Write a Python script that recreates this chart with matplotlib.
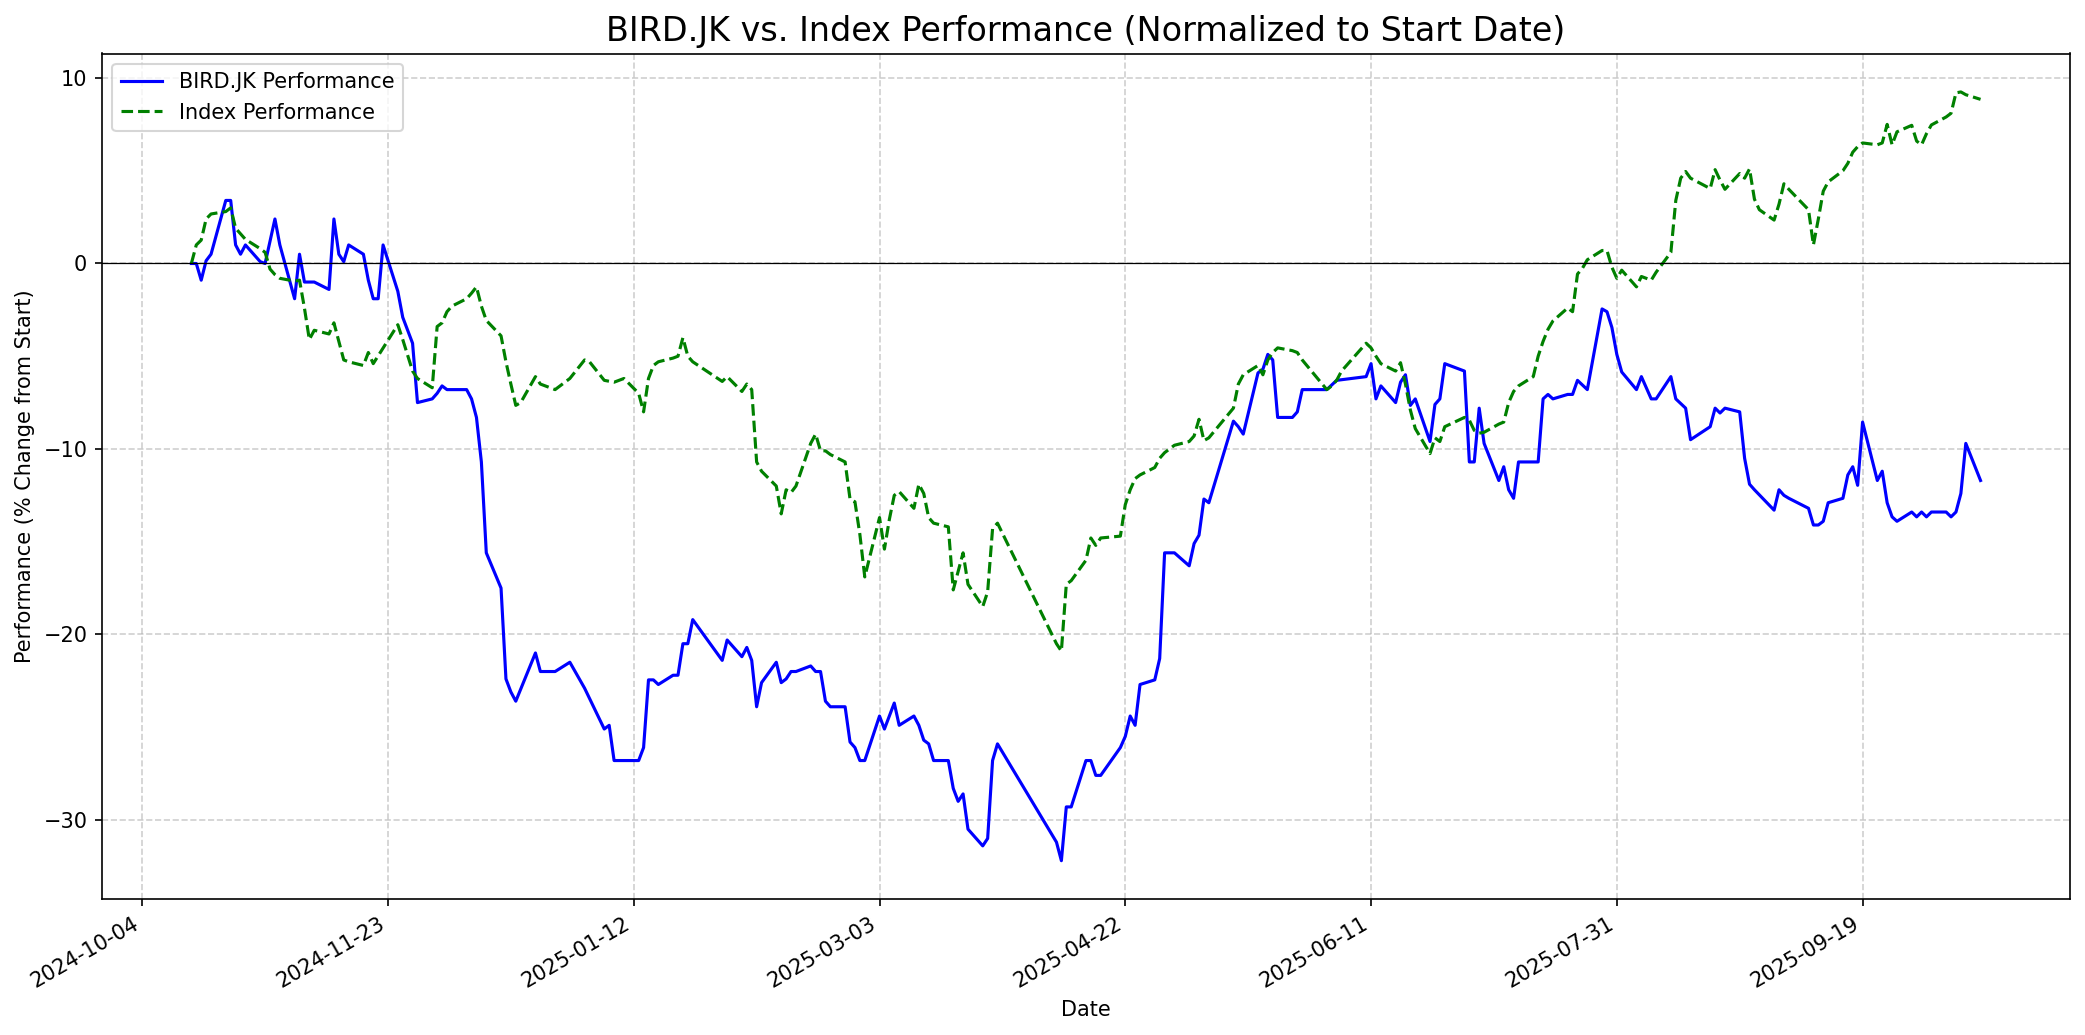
import matplotlib
matplotlib.use("Agg")
import matplotlib.pyplot as plt
import matplotlib.dates as mdates
import pandas as pd

bird_dates = [
    "2024-10-14", "2024-10-15", "2024-10-16", "2024-10-17", "2024-10-18", "2024-10-21", "2024-10-22",
    "2024-10-23", "2024-10-24", "2024-10-25", "2024-10-28", "2024-10-29", "2024-10-31", "2024-11-01",
    "2024-11-04", "2024-11-05", "2024-11-06", "2024-11-07", "2024-11-08", "2024-11-11", "2024-11-12",
    "2024-11-13", "2024-11-14", "2024-11-15", "2024-11-18", "2024-11-19", "2024-11-20", "2024-11-21",
    "2024-11-22", "2024-11-25", "2024-11-26", "2024-11-28", "2024-11-29", "2024-12-02", "2024-12-03",
    "2024-12-04", "2024-12-05", "2024-12-06", "2024-12-09", "2024-12-10", "2024-12-11", "2024-12-12",
    "2024-12-13", "2024-12-16", "2024-12-17", "2024-12-18", "2024-12-19", "2024-12-23", "2024-12-24",
    "2024-12-27", "2024-12-30", "2025-01-02", "2025-01-06", "2025-01-07", "2025-01-08", "2025-01-09",
    "2025-01-10", "2025-01-13", "2025-01-14", "2025-01-15", "2025-01-16", "2025-01-17", "2025-01-20",
    "2025-01-21", "2025-01-22", "2025-01-23", "2025-01-24", "2025-01-30", "2025-01-31", "2025-02-03",
    "2025-02-04", "2025-02-05", "2025-02-06", "2025-02-07", "2025-02-10", "2025-02-11", "2025-02-12",
    "2025-02-13", "2025-02-14", "2025-02-17", "2025-02-18", "2025-02-19", "2025-02-20", "2025-02-21",
    "2025-02-24", "2025-02-25", "2025-02-26", "2025-02-27", "2025-02-28", "2025-03-03", "2025-03-04",
    "2025-03-05", "2025-03-06", "2025-03-07", "2025-03-10", "2025-03-11", "2025-03-12", "2025-03-13",
    "2025-03-14", "2025-03-17", "2025-03-18", "2025-03-19", "2025-03-20", "2025-03-21", "2025-03-24",
    "2025-03-25", "2025-03-26", "2025-03-27", "2025-04-08", "2025-04-09", "2025-04-10", "2025-04-11",
    "2025-04-14", "2025-04-15", "2025-04-16", "2025-04-17", "2025-04-21", "2025-04-22", "2025-04-23",
    "2025-04-24", "2025-04-25", "2025-04-28", "2025-04-29", "2025-04-30", "2025-05-02", "2025-05-05",
    "2025-05-06", "2025-05-07", "2025-05-08", "2025-05-09", "2025-05-14", "2025-05-15", "2025-05-16",
    "2025-05-19", "2025-05-20", "2025-05-21", "2025-05-22", "2025-05-23", "2025-05-26", "2025-05-27",
    "2025-05-28", "2025-06-02", "2025-06-04", "2025-06-10", "2025-06-11", "2025-06-12", "2025-06-13",
    "2025-06-16", "2025-06-17", "2025-06-18", "2025-06-19", "2025-06-20", "2025-06-23", "2025-06-24",
    "2025-06-25", "2025-06-26", "2025-06-30", "2025-07-01", "2025-07-02", "2025-07-03", "2025-07-04",
    "2025-07-07", "2025-07-08", "2025-07-09", "2025-07-10", "2025-07-11", "2025-07-14", "2025-07-15",
    "2025-07-16", "2025-07-17", "2025-07-18", "2025-07-21", "2025-07-22", "2025-07-23", "2025-07-25",
    "2025-07-28", "2025-07-29", "2025-07-30", "2025-07-31", "2025-08-01", "2025-08-04", "2025-08-05",
    "2025-08-06", "2025-08-07", "2025-08-08", "2025-08-11", "2025-08-12", "2025-08-13", "2025-08-14",
    "2025-08-15", "2025-08-19", "2025-08-20", "2025-08-21", "2025-08-22", "2025-08-25", "2025-08-26",
    "2025-08-27", "2025-08-28", "2025-09-01", "2025-09-02", "2025-09-03", "2025-09-04", "2025-09-08",
    "2025-09-09", "2025-09-10", "2025-09-11", "2025-09-12", "2025-09-15", "2025-09-16", "2025-09-17",
    "2025-09-18", "2025-09-19", "2025-09-22", "2025-09-23", "2025-09-24", "2025-09-25", "2025-09-26",
    "2025-09-29", "2025-09-30", "2025-10-01", "2025-10-02", "2025-10-03", "2025-10-06", "2025-10-07",
    "2025-10-08", "2025-10-09", "2025-10-10", "2025-10-13",
]
bird_perf = [
    0.0, 0.0, -0.9, 0.15, 0.5, 3.4, 3.4,
    1.0, 0.5, 1.0, 0.1, 0.0, 2.4, 1.0,
    -1.9, 0.5, -1.0, -1.0, -1.0, -1.4, 2.4,
    0.5, 0.1, 1.0, 0.5, -0.9, -1.9, -1.9,
    1.0, -1.5, -2.9, -4.3, -7.5, -7.3, -7.0,
    -6.6, -6.8, -6.8, -6.8, -7.3, -8.3, -10.7,
    -15.6, -17.5, -22.4, -23.1, -23.6, -21.0, -22.0,
    -22.0, -21.5, -22.9, -25.1, -24.9, -26.8, -26.8,
    -26.8, -26.8, -26.1, -22.45, -22.45, -22.7, -22.2,
    -22.2, -20.5, -20.5, -19.2, -21.4, -20.3, -21.2,
    -20.7, -21.4, -23.9, -22.6, -21.5, -22.6, -22.4,
    -22.0, -22.0, -21.7, -22.0, -22.0, -23.6, -23.9,
    -23.9, -25.8, -26.1, -26.8, -26.8, -24.4, -25.1,
    -24.4, -23.7, -24.9, -24.4, -24.9, -25.7, -25.9,
    -26.8, -26.8, -28.3, -29.0, -28.6, -30.5, -31.4,
    -31.0, -26.8, -25.9, -31.2, -32.2, -29.3, -29.3,
    -26.8, -26.8, -27.6, -27.6, -26.1, -25.5, -24.4,
    -24.9, -22.7, -22.45, -21.3, -15.6, -15.6, -16.3,
    -15.1, -14.65, -12.7, -12.9, -8.5, -8.8, -9.2,
    -5.9, -5.7, -4.9, -5.2, -8.3, -8.3, -8.0,
    -6.8, -6.8, -6.3, -6.1, -5.4, -7.3, -6.6,
    -7.5, -6.4, -6.0, -7.65, -7.3, -9.6, -7.6,
    -7.3, -5.4, -5.8, -10.7, -10.7, -7.8, -9.7,
    -11.7, -10.96, -12.2, -12.66, -10.7, -10.7, -10.7,
    -7.3, -7.06, -7.3, -7.06, -7.06, -6.3, -6.8,
    -2.45, -2.6, -3.45, -4.9, -5.85, -6.8, -6.1,
    -6.7, -7.3, -7.3, -6.1, -7.3, -7.55, -7.8,
    -9.5, -8.8, -7.8, -8.06, -7.8, -8.0, -10.5,
    -11.9, -12.2, -13.3, -12.2, -12.5, -12.66, -13.2,
    -14.1, -14.1, -13.9, -12.9, -12.66, -11.4, -10.96,
    -11.96, -8.55, -11.7, -11.2, -12.9, -13.66, -13.9,
    -13.4, -13.66, -13.4, -13.66, -13.4, -13.4, -13.66,
    -13.4, -12.4, -9.7, -11.7,
]

index_dates = [
    "2024-10-14", "2024-10-15", "2024-10-16", "2024-10-17", "2024-10-18", "2024-10-21", "2024-10-22",
    "2024-10-23", "2024-10-24", "2024-10-25", "2024-10-28", "2024-10-29", "2024-10-30", "2024-10-31",
    "2024-11-01", "2024-11-04", "2024-11-05", "2024-11-06", "2024-11-07", "2024-11-08", "2024-11-11",
    "2024-11-12", "2024-11-13", "2024-11-14", "2024-11-15", "2024-11-18", "2024-11-19", "2024-11-20",
    "2024-11-25", "2024-11-26", "2024-11-28", "2024-11-29", "2024-12-02", "2024-12-03", "2024-12-04",
    "2024-12-05", "2024-12-06", "2024-12-09", "2024-12-10", "2024-12-11", "2024-12-12", "2024-12-13",
    "2024-12-16", "2024-12-17", "2024-12-18", "2024-12-19", "2024-12-20", "2024-12-23", "2024-12-24",
    "2024-12-27", "2024-12-30", "2025-01-02", "2025-01-03", "2025-01-06", "2025-01-07", "2025-01-08",
    "2025-01-10", "2025-01-13", "2025-01-14", "2025-01-15", "2025-01-16", "2025-01-17", "2025-01-20",
    "2025-01-21", "2025-01-22", "2025-01-23", "2025-01-24", "2025-01-30", "2025-01-31", "2025-02-03",
    "2025-02-04", "2025-02-05", "2025-02-06", "2025-02-07", "2025-02-10", "2025-02-11", "2025-02-12",
    "2025-02-13", "2025-02-14", "2025-02-17", "2025-02-18", "2025-02-19", "2025-02-20", "2025-02-21",
    "2025-02-24", "2025-02-25", "2025-02-26", "2025-02-27", "2025-02-28", "2025-03-03", "2025-03-04",
    "2025-03-05", "2025-03-06", "2025-03-07", "2025-03-10", "2025-03-11", "2025-03-12", "2025-03-13",
    "2025-03-14", "2025-03-17", "2025-03-18", "2025-03-19", "2025-03-20", "2025-03-21", "2025-03-24",
    "2025-03-25", "2025-03-26", "2025-03-27", "2025-04-08", "2025-04-09", "2025-04-10", "2025-04-11",
    "2025-04-14", "2025-04-15", "2025-04-16", "2025-04-17", "2025-04-21", "2025-04-22", "2025-04-23",
    "2025-04-24", "2025-04-25", "2025-04-28", "2025-04-29", "2025-04-30", "2025-05-02", "2025-05-05",
    "2025-05-06", "2025-05-07", "2025-05-08", "2025-05-09", "2025-05-14", "2025-05-15", "2025-05-16",
    "2025-05-19", "2025-05-20", "2025-05-21", "2025-05-22", "2025-05-23", "2025-05-26", "2025-05-27",
    "2025-05-28", "2025-06-02", "2025-06-03", "2025-06-04", "2025-06-05", "2025-06-10", "2025-06-11",
    "2025-06-12", "2025-06-13", "2025-06-16", "2025-06-17", "2025-06-18", "2025-06-19", "2025-06-20",
    "2025-06-23", "2025-06-24", "2025-06-25", "2025-06-26", "2025-06-30", "2025-07-01", "2025-07-02",
    "2025-07-03", "2025-07-04", "2025-07-07", "2025-07-08", "2025-07-09", "2025-07-10", "2025-07-11",
    "2025-07-14", "2025-07-15", "2025-07-16", "2025-07-17", "2025-07-18", "2025-07-21", "2025-07-22",
    "2025-07-23", "2025-07-24", "2025-07-25", "2025-07-28", "2025-07-29", "2025-07-30", "2025-07-31",
    "2025-08-01", "2025-08-04", "2025-08-05", "2025-08-06", "2025-08-07", "2025-08-08", "2025-08-11",
    "2025-08-12", "2025-08-13", "2025-08-14", "2025-08-15", "2025-08-19", "2025-08-20", "2025-08-21",
    "2025-08-22", "2025-08-25", "2025-08-26", "2025-08-27", "2025-08-28", "2025-08-29", "2025-09-01",
    "2025-09-02", "2025-09-03", "2025-09-04", "2025-09-08", "2025-09-09", "2025-09-10", "2025-09-11",
    "2025-09-12", "2025-09-15", "2025-09-16", "2025-09-17", "2025-09-18", "2025-09-19", "2025-09-22",
    "2025-09-23", "2025-09-24", "2025-09-25", "2025-09-26", "2025-09-29", "2025-09-30", "2025-10-01",
    "2025-10-02", "2025-10-03", "2025-10-06", "2025-10-07", "2025-10-08", "2025-10-09", "2025-10-10",
    "2025-10-13",
]
index_perf = [
    0.0, 1.0, 1.26, 2.4, 2.67, 2.8, 3.0,
    1.9, 1.6, 1.3, 0.8, 0.6, -0.3, -0.6,
    -0.8, -0.95, -0.9, -2.4, -4.1, -3.6, -3.8,
    -3.2, -4.2, -5.2, -5.3, -5.5, -4.8, -5.4,
    -3.3, -4.1, -5.8, -6.2, -6.7, -3.4, -3.2,
    -2.6, -2.3, -1.9, -1.6, -1.26, -2.3, -3.07,
    -3.9, -5.3, -6.5, -7.65, -7.5, -6.1, -6.5,
    -6.8, -6.2, -5.2, -5.3, -6.3, -6.35, -6.4,
    -6.2, -7.0, -8.0, -6.2, -5.5, -5.3, -5.1,
    -5.0, -4.0, -5.0, -5.3, -6.36, -6.1, -6.9,
    -6.5, -6.8, -10.7, -11.2, -12.0, -13.5, -12.2,
    -12.35, -12.0, -9.7, -9.2, -10.1, -10.1, -10.3,
    -10.7, -12.7, -12.85, -14.6, -16.9, -13.7, -15.4,
    -13.8, -12.5, -12.3, -13.2, -11.9, -12.4, -13.7,
    -14.0, -14.2, -17.6, -16.6, -15.6, -17.3, -18.5,
    -17.7, -14.3, -14.0, -20.5, -20.9, -17.3, -17.1,
    -16.0, -14.8, -15.2, -14.8, -14.7, -13.0, -12.2,
    -11.6, -11.4, -11.0, -10.5, -10.2, -9.8, -9.6,
    -9.3, -8.4, -9.55, -9.4, -7.8, -6.5, -6.0,
    -5.5, -6.0, -5.2, -4.8, -4.55, -4.7, -4.8,
    -5.2, -6.8, -6.6, -6.3, -5.8, -4.3, -4.55,
    -5.0, -5.4, -5.8, -5.35, -6.5, -7.9, -8.9,
    -10.25, -9.4, -9.6, -8.8, -8.3, -8.45, -9.0,
    -9.15, -9.1, -8.66, -8.55, -7.5, -6.9, -6.6,
    -6.1, -5.0, -4.2, -3.55, -3.1, -2.4, -2.6,
    -0.57, -0.26, 0.2, 0.7, 0.7, -0.2, -0.8,
    -0.36, -1.26, -0.7, -0.8, -0.9, -0.47, 0.6,
    3.4, 4.6, 4.96, 4.6, 4.04, 5.06, 4.5,
    4.0, 4.85, 4.6, 5.1, 3.47, 2.9, 2.34,
    3.2, 4.3, 4.0, 2.9, 1.0, 2.4, 3.9,
    4.4, 5.0, 5.4, 6.0, 6.3, 6.5, 6.4,
    6.5, 7.5, 6.4, 7.1, 7.45, 6.6, 6.4,
    7.0, 7.47, 7.9, 8.1, 9.2, 9.25, 9.1,
    8.85,
]

x_tick_labels = ["2024-10-04", "2024-11-23", "2025-01-12", "2025-03-03",
                 "2025-04-22", "2025-06-11", "2025-07-31", "2025-09-19"]

bird_x = pd.to_datetime(bird_dates)
index_x = pd.to_datetime(index_dates)

fig, ax = plt.subplots(figsize=(14, 7), dpi=150)
ax.plot(bird_x, bird_perf, color="blue", linestyle="-", label="BIRD.JK Performance")
ax.plot(index_x, index_perf, color="green", linestyle="--", label="Index Performance")
ax.axhline(0, color="black", linewidth=0.6)
ax.set_title("BIRD.JK vs. Index Performance (Normalized to Start Date)", fontsize=16)
ax.set_xlabel("Date")
ax.set_ylabel("Performance (% Change from Start)")
ax.set_xticks(pd.to_datetime(x_tick_labels))
ax.xaxis.set_major_formatter(mdates.DateFormatter("%Y-%m-%d"))
ax.legend(loc="upper left")
ax.grid(True, linestyle="--", alpha=0.6)
fig.autofmt_xdate()
fig.tight_layout()
fig.savefig("out.png", dpi=150, bbox_inches="tight")
